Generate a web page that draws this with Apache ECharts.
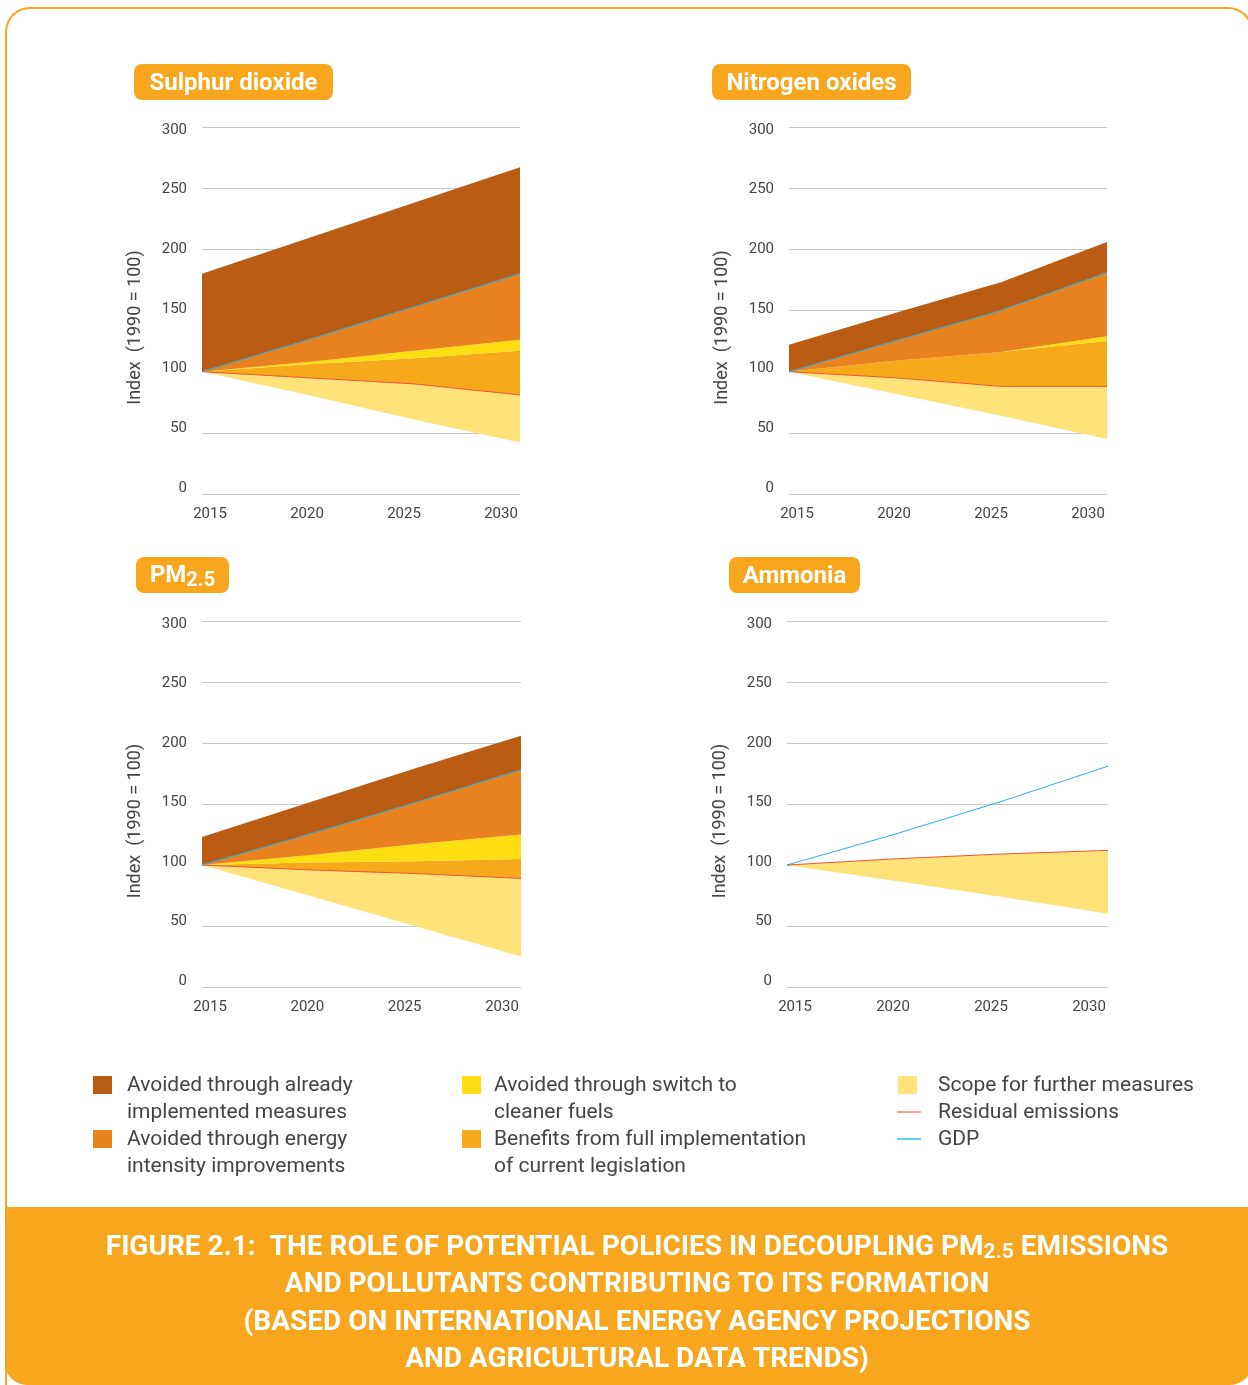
<!DOCTYPE html>
<html>
<head>
<meta charset="utf-8">
<script src="https://cdn.jsdelivr.net/npm/echarts@6/dist/echarts.min.js"></script>
<style>
html,body{margin:0;padding:0;background:#fff;}
#chart{width:1248px;height:1385px;}
</style>
</head>
<body>
<div id="chart"></div>
<script>
// ---- Data (index, 1990 = 100) ----
const years = ['2015', '2020', '2025', '2030'];
const yearTickLabels = [2015, 2020, 2025, 2030];
const indexTickLabels = [0, 50, 100, 150, 200, 250, 300];

// Sulphur dioxide: boundary lines of the bands
const so2Lower = [100, 81, 61, 42];
const so2Residual = [100, 95, 90, 81];
const so2Legislation = [100, 106, 111, 117];
const so2Fuels = [100, 108, 117, 126];
const so2Gdp = [100, 126, 153, 180];
const so2Top = [180, 209, 238, 267];

// Nitrogen oxides
const noxLower = [100, 82, 64, 45];
const noxResidual = [100, 95, 88, 88];
const noxLegislation = [100, 109, 116, 125];
const noxFuels = [100, 109, 116, 129];
const noxGdp = [100, 125, 150, 181];
const noxTop = [122, 148, 173, 206];

// PM2.5
const pmLower = [100, 75, 50, 25];
const pmResidual = [100, 96, 93, 89];
const pmLegislation = [100, 102, 103, 105];
const pmFuels = [100, 108, 117, 125];
const pmGdp = [100, 125, 151, 178];
const pmTop = [123, 151, 179, 206];

// Ammonia
const nh3Lower = [100, 87, 74, 60];
const nh3Residual = [100, 105, 109, 112];
const nh3Gdp = [100, 125, 152, 181];

const seriesNames = {
  already: 'Avoided through already implemented measures',
  energy: 'Avoided through energy intensity improvements',
  fuels: 'Avoided through switch to cleaner fuels',
  legislation: 'Benefits from full implementation of current legislation',
  scope: 'Scope for further measures',
  residual: 'Residual emissions',
  gdp: 'GDP'
};
const colors = {
  already: '#BA5C14',
  energy: '#E8821E',
  fuels: '#FEDD12',
  legislation: '#F5A91B',
  scope: '#FFE27A',
  residual: '#EE5634',
  gdp: '#2AAEE4',
  legResidual: '#F58A70',
  legGdp: '#3BBDEB'
};

const panels = [
  {title: 'Sulphur dioxide', lower: so2Lower, residual: so2Residual, legislation: so2Legislation, fuels: so2Fuels, gdp: so2Gdp, top: so2Top},
  {title: 'Nitrogen oxides', lower: noxLower, residual: noxResidual, legislation: noxLegislation, fuels: noxFuels, gdp: noxGdp, top: noxTop},
  {title: 'PM2.5', lower: pmLower, residual: pmResidual, legislation: pmLegislation, fuels: pmFuels, gdp: pmGdp, top: pmTop},
  {title: 'Ammonia', lower: nh3Lower, residual: nh3Residual, gdp: nh3Gdp}
];

// ---- Layout ----
const gridPos = [
  {left: 202, top: 127, width: 318, height: 367},
  {left: 789, top: 127, width: 318, height: 367},
  {left: 202, top: 621, width: 319, height: 366},
  {left: 787, top: 621, width: 321, height: 366}
];
const badges = [
  {x: 134, y: 64, w: 199, h: 36},
  {x: 712, y: 64, w: 199, h: 36},
  {x: 136, y: 557, w: 93, h: 36},
  {x: 729, y: 557, w: 131, h: 36}
];
// tick-label strips sit slightly inside the plotted range (as in the source figure)
const xLabelInsetLeft = 8, xLabelInsetRight = 19;
const yLabelInsetTop = 3, yLabelInsetBottom = 6;

const grids = [], xAxes = [], yAxes = [], series = [];
const diff = (a, b) => a.map((v, i) => +(v - b[i]).toFixed(2));
const labelFont = {color: '#444', fontSize: 15, fontFamily: 'Roboto'};

panels.forEach((p, k) => {
  grids.push(Object.assign({containLabel: false}, gridPos[k]));
  const w = gridPos[k].width, h = gridPos[k].height;
  // data x axis (categories, no labels)
  xAxes.push({
    type: 'category', gridIndex: k, data: years, boundaryGap: false,
    axisLine: {show: false}, axisTick: {show: false}, splitLine: {show: false},
    axisLabel: {show: false}
  });
  // x tick-label axis
  const pxPerYear = (w - xLabelInsetLeft - xLabelInsetRight) / 15;
  xAxes.push({
    type: 'value', gridIndex: k, position: 'bottom',
    min: 2015 - xLabelInsetLeft / pxPerYear, max: 2030 + xLabelInsetRight / pxPerYear,
    axisLine: {show: false}, axisTick: {show: false}, splitLine: {show: false},
    axisLabel: Object.assign({show: true, customValues: yearTickLabels, formatter: v => String(Math.round(v)), margin: 13}, labelFont)
  });
  // data y axis (gridlines)
  yAxes.push({
    type: 'value', gridIndex: k, position: 'left', min: 0, max: 300, interval: 50,
    name: 'Index  (1990 = 100)', nameLocation: 'middle', nameGap: 58,
    nameTextStyle: {color: '#444', fontSize: 18, fontFamily: 'Roboto', padding: [0, 34, 0, 0]},
    axisLine: {show: false}, axisTick: {show: false},
    splitLine: {show: true, lineStyle: {color: '#C9C9C9', width: 1}},
    axisLabel: {show: false}
  });
  // y tick-label axis
  const pxPerUnit = (h - yLabelInsetTop - yLabelInsetBottom) / 300;
  yAxes.push({
    type: 'value', gridIndex: k, position: 'left',
    min: 0 - yLabelInsetBottom / pxPerUnit, max: 300 + yLabelInsetTop / pxPerUnit,
    axisLine: {show: false}, axisTick: {show: false}, splitLine: {show: false},
    axisLabel: Object.assign({show: true, customValues: indexTickLabels, formatter: v => String(Math.round(v)), margin: 15}, labelFont)
  });
  const stack = 'p' + k;
  const xi = 2 * k, yi = 2 * k;
  const area = (name, data, color, opacity) => ({
    name, type: 'line', xAxisIndex: xi, yAxisIndex: yi, stack, data,
    symbol: 'none', silent: true, lineStyle: {width: 0},
    areaStyle: {color, opacity: opacity}, itemStyle: {color}, z: 2
  });
  series.push(area('base', p.lower, '#ffffff', 0));
  series.push(area(seriesNames.scope, diff(p.residual, p.lower), colors.scope, 1));
  if (p.legislation) {
    series.push(area(seriesNames.legislation, diff(p.legislation, p.residual), colors.legislation, 1));
    series.push(area(seriesNames.fuels, diff(p.fuels, p.legislation), colors.fuels, 1));
    series.push(area(seriesNames.energy, diff(p.gdp, p.fuels), colors.energy, 1));
    series.push(area(seriesNames.already, diff(p.top, p.gdp), colors.already, 1));
  }
  series.push({
    name: seriesNames.residual, type: 'line', xAxisIndex: xi, yAxisIndex: yi,
    data: p.residual, symbol: 'none', silent: true,
    lineStyle: {color: colors.residual, width: 1}, z: 4
  });
  series.push({
    name: seriesNames.gdp, type: 'line', xAxisIndex: xi, yAxisIndex: yi,
    data: p.gdp, symbol: 'none', silent: true,
    lineStyle: {color: colors.gdp, width: 1}, z: 5
  });
});

// ---- Graphics: frame, badges, legend, caption ----
const graphic = [];
graphic.push({
  type: 'rect', z: -10, silent: true,
  shape: {x: 6, y: 8, width: 1246, height: 1400, r: 24},
  style: {fill: '#fff', stroke: '#F6A623', lineWidth: 2}
});
panels.forEach((p, k) => {
  const b = badges[k];
  graphic.push({
    type: 'rect', z: 10, silent: true,
    shape: {x: b.x, y: b.y, width: b.w, height: b.h, r: 8},
    style: {fill: '#F7A61E'}
  });
  const isPM = p.title === 'PM2.5';
  graphic.push({
    type: 'text', z: 11, silent: true,
    x: b.x + b.w / 2, y: b.y + b.h / 2 + (isPM ? 1 : 2),
    style: {
      text: isPM ? 'PM{s|2.5}' : p.title,
      fill: '#fff', font: 'bold 24px Roboto', align: 'center', verticalAlign: 'middle',
      rich: isPM ? {s: {fill: '#fff', font: 'bold 20px Roboto', padding: [10, 0, 0, 0]}} : undefined
    }
  });
});

// Legend
const legendItems = [
  {type: 'box', color: colors.already, x: 93, y: 1086, text: 'Avoided through already\nimplemented measures', tx: 127},
  {type: 'box', color: colors.energy, x: 93, y: 1140, text: 'Avoided through energy\nintensity improvements', tx: 127},
  {type: 'box', color: colors.fuels, x: 462, y: 1086, text: 'Avoided through switch to\ncleaner fuels', tx: 494},
  {type: 'box', color: colors.legislation, x: 462, y: 1140, text: 'Benefits from full implementation\nof current legislation', tx: 494},
  {type: 'box', color: colors.scope, x: 898, y: 1086, text: 'Scope for further measures', tx: 938},
  {type: 'line', color: colors.legResidual, x: 897, y: 1113, text: 'Residual emissions', tx: 938},
  {type: 'line', color: colors.legGdp, x: 897, y: 1140, text: 'GDP', tx: 938}
];
legendItems.forEach(it => {
  if (it.type === 'box') {
    graphic.push({type: 'rect', silent: true, shape: {x: it.x, y: it.y - 10, width: 19, height: 18}, style: {fill: it.color}});
  } else {
    graphic.push({type: 'line', silent: true, shape: {x1: it.x, y1: it.y - 1, x2: it.x + 24, y2: it.y - 1}, style: {stroke: it.color, lineWidth: 1.5}});
  }
  graphic.push({
    type: 'text', silent: true, x: it.tx, y: it.y - 13.5,
    style: {text: it.text, fill: '#444', font: '21px Roboto', lineHeight: 27, align: 'left', verticalAlign: 'top'}
  });
});

// Caption band
graphic.push({
  type: 'rect', z: 5, silent: true,
  shape: {x: 5, y: 1207, width: 1247, height: 178, r: [0, 0, 22, 22]},
  style: {fill: '#F7A61E'}
});
const captionLines = [
  'FIGURE 2.1:  THE ROLE OF POTENTIAL POLICIES IN DECOUPLING PM{s|2.5} EMISSIONS',
  'AND POLLUTANTS CONTRIBUTING TO ITS FORMATION',
  '(BASED ON INTERNATIONAL ENERGY AGENCY PROJECTIONS',
  'AND AGRICULTURAL DATA TRENDS)'
];
const captionY = [1248, 1285, 1323, 1360];
captionLines.forEach((t, i) => {
  graphic.push({
    type: 'text', z: 6, silent: true, x: 637, y: captionY[i],
    style: {
      text: t, fill: '#fff', font: 'bold 28px Roboto', align: 'center', verticalAlign: 'middle',
      rich: {s: {fill: '#fff', font: 'bold 21px Roboto', padding: [10, 0, 0, 0]}}
    }
  });
});

const chart = echarts.init(document.getElementById('chart'), null, {renderer: 'canvas'});
chart.setOption({
  backgroundColor: '#fff',
  animation: false,
  grid: grids,
  xAxis: xAxes,
  yAxis: yAxes,
  series: series,
  graphic: graphic
});
</script>
</body>
</html>
